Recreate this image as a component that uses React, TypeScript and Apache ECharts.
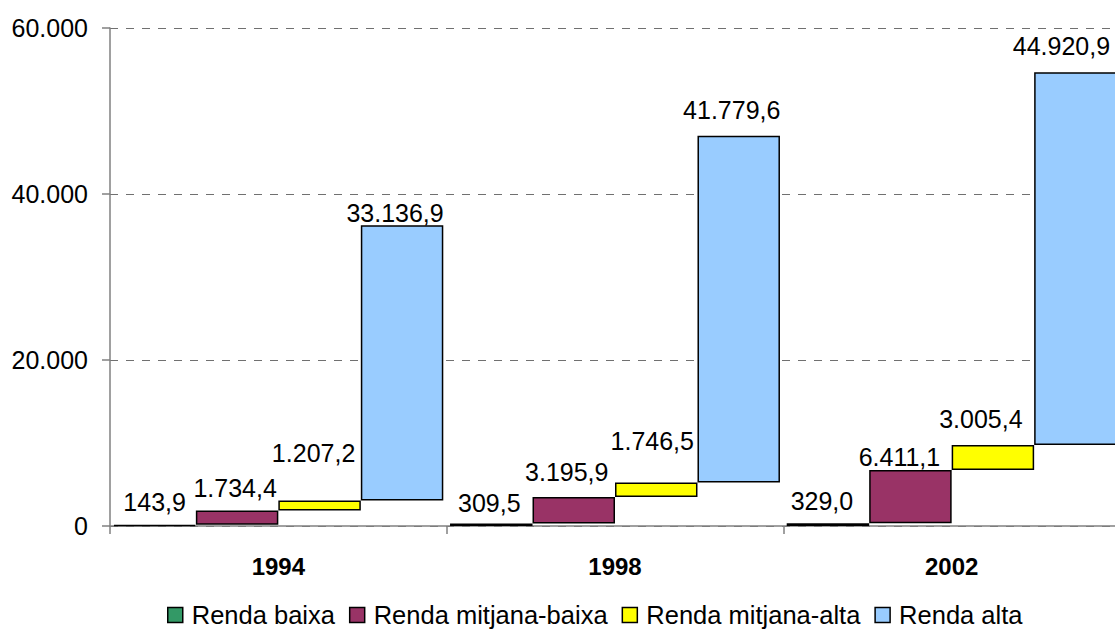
import React, { useEffect, useRef } from "react";
import * as echarts from "echarts";

const years = ["1994", "1998", "2002"];
const seriesNames = ["Renda baixa", "Renda mitjana-baixa", "Renda mitjana-alta", "Renda alta"];
const rendaBaixa = [143.9, 309.5, 329.0];
const rendaMitjanaBaixa = [1734.4, 3195.9, 6411.1];
const rendaMitjanaAlta = [1207.2, 1746.5, 3005.4];
const rendaAlta = [33136.9, 41779.6, 44920.9];
const yTicks = [0, 20000, 40000, 60000];

// presentation only: label lift / horizontal shift (px) per series per year
const labelLift = [
  [10, 8, 10],
  [10, 12, 1],
  [35, 29, 14],
  [0, 13, 14],
];
const labelShiftX = [
  [0, -2, -6],
  [-2, -7, -11],
  [-6, -4, -12],
  [-7, -7, -14],
];
const colors = ["#339966", "#993366", "#FFFF00", "#99CCFF"];

function fmtNum(v: number, dec: number): string {
  const s = v.toFixed(dec);
  const [ip, dp] = s.split(".");
  const withDots = ip.replace(/\B(?=(\d{3})+(?!\d))/g, ".");
  return dp !== undefined ? withDots + "," + dp : withDots;
}

export default function App() {
  const ref = useRef<HTMLDivElement>(null);
  useEffect(() => {
    if (!ref.current) return;
    const chart = echarts.init(ref.current, null, { renderer: "svg" });
    const values = [rendaBaixa, rendaMitjanaBaixa, rendaMitjanaAlta, rendaAlta];
    const font = "'Liberation Sans', Arial, sans-serif";
    const series: any[] = [];
    values.forEach((vals, k) => {
      const stack = "s" + k;
      const base = years.map((_, i) => {
        let s = 0;
        for (let j = 0; j < k; j++) s += values[j][i];
        return s;
      });
      series.push({
        type: "bar",
        name: "base" + k,
        stack,
        data: base,
        itemStyle: { color: "transparent", borderWidth: 0 },
        silent: true,
        barGap: "0%",
        barCategoryGap: "2%",
        label: { show: false },
        tooltip: { show: false },
      });
      series.push({
        type: "bar",
        name: seriesNames[k],
        stack,
        data: vals.map((v, i) => ({
          value: v,
          label: { distance: labelLift[k][i], offset: [labelShiftX[k][i], 0] },
        })),
        barGap: "0%",
        barCategoryGap: "2%",
        itemStyle: { color: colors[k], borderColor: "#000", borderWidth: 1.5 },
        label: {
          show: true,
          position: "top",
          formatter: (p: any) => fmtNum(p.value, 1),
          fontSize: 25,
          fontFamily: font,
          color: "#000",
        },
      });
    });
    chart.setOption({
      animation: false,
      backgroundColor: "#fff",
      grid: { left: 110, top: 28, bottom: 104, width: 1010, outerBoundsMode: "none", containLabel: false },
      legend: {
        data: seriesNames,
        top: 602,
        left: 167,
        padding: 0,
        icon: "rect",
        itemWidth: 15,
        itemHeight: 15,
        itemGap: 14,
        selectedMode: false,
        itemStyle: { borderColor: "#000", borderWidth: 1.5 },
        textStyle: {
          fontSize: 25.5,
          lineHeight: 20,
          fontFamily: font,
          color: "#000",
          padding: [0, 0, 0, 4],
        },
      },
      xAxis: {
        type: "category",
        data: years,
        axisLine: { lineStyle: { color: "#808080", width: 1.5 } },
        axisTick: { show: true, length: 8, lineStyle: { color: "#808080", width: 1.5 } },
        axisLabel: { fontSize: 24, fontWeight: "bold", fontFamily: font, color: "#000", margin: 28 },
      },
      yAxis: {
        type: "value",
        min: yTicks[0],
        max: yTicks[yTicks.length - 1],
        interval: yTicks[1] - yTicks[0],
        axisLine: { show: true, lineStyle: { color: "#808080", width: 1.5 } },
        axisTick: { show: true, length: 8, lineStyle: { color: "#808080", width: 1.5 } },
        axisLabel: {
          fontSize: 25,
          fontFamily: font,
          color: "#000",
          margin: 22,
          formatter: (v: number) => fmtNum(v, 0),
        },
        splitLine: { show: true, lineStyle: { color: "#707070", type: [8, 8], width: 1 } },
      },
      series,
    });
    return () => chart.dispose();
  }, []);
  return <div ref={ref} style={{ width: 1115, height: 630, position: "absolute", left: 0, top: 0 }} />;
}
